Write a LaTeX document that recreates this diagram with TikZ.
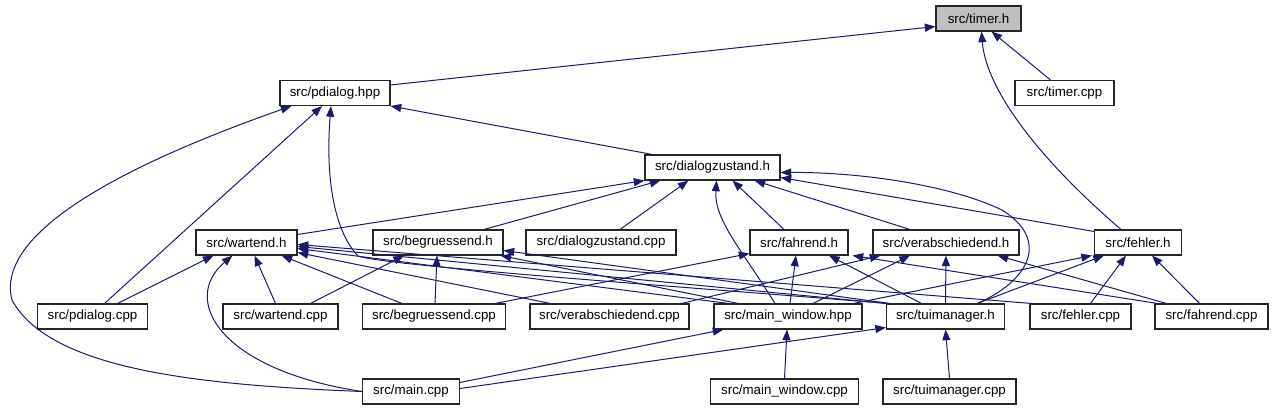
\documentclass[tikz,border=0pt]{standalone}
\usepackage{fontspec}
\setmainfont{Liberation Sans}
\usetikzlibrary{arrows.meta,calc}
\definecolor{edgeblue}{HTML}{191970}
\definecolor{boxgray}{HTML}{BFBFBF}
\begin{document}
\begin{tikzpicture}[x=0.75pt,y=-0.75pt,
  box/.style={draw=black!85, line width=0.8pt, fill=white, inner sep=0pt,
    minimum height=18.75pt, font=\fontsize{10}{12}\selectfont},
  bw/.style={minimum width=#1*0.75pt},
  dep/.style={draw=edgeblue, line width=0.75pt, -{Triangle[length=8pt,width=6pt]}}]
\useasboundingbox (0,0) rectangle (1273,411);
% nodes
\node[box,bw=85,fill=boxgray] (timer) at (978.5,18.5) {src/timer.h};
\node[box,bw=110] (pdialoghpp) at (335,93) {src/pdialog.hpp};
\node[box,bw=99] (timercpp) at (1064.5,93) {src/timer.cpp};
\node[box,bw=135] (dzh) at (712.5,167.5) {src/dialogzustand.h};
\node[box,bw=101] (wartendh) at (246.5,242.5) {src/wartend.h};
\node[box,bw=130] (begrh) at (438,242.5) {src/begruessend.h};
\node[box,bw=150] (dzcpp) at (601,242.5) {src/dialogzustand.cpp};
\node[box,bw=98] (fahrendh) at (799,242.5) {src/fahrend.h};
\node[box,bw=146] (verabh) at (946,242.5) {src/verabschiedend.h};
\node[box,bw=87] (fehlerh) at (1138,242.5) {src/fehler.h};
\node[box,bw=110] (pdialogcpp) at (92.5,316.5) {src/pdialog.cpp};
\node[box,bw=115] (wartendcpp) at (280.5,316.5) {src/wartend.cpp};
\node[box,bw=143] (begrcpp) at (434,316.5) {src/begruessend.cpp};
\node[box,bw=159] (verabcpp) at (609.5,316.5) {src/verabschiedend.cpp};
\node[box,bw=148] (mwhpp) at (788,316.5) {src/main\_window.hpp};
\node[box,bw=118] (tuih) at (945.5,316.5) {src/tuimanager.h};
\node[box,bw=101] (fehlercpp) at (1080.5,316.5) {src/fehler.cpp};
\node[box,bw=113] (fahrendcpp) at (1211.5,316.5) {src/fahrend.cpp};
\node[box,bw=97] (maincpp) at (411,391.5) {src/main.cpp};
\node[box,bw=148] (mwcpp) at (784.5,391.5) {src/main\_window.cpp};
\node[box,bw=133] (tuicpp) at (949.5,391.5) {src/tuimanager.cpp};
% into timer.h
\draw[dep] ($(pdialoghpp.north east)+(0,5)$) -- ($(timer.west)+(0,8)$);
\draw[dep] ($(timercpp.north)+(-14,0)$) -- ($(timer.south)+(13,0)$);
\draw[dep] ($(fehlerh.north)+(-17,0)$) .. controls (1040,160) and (986,90) .. ($(timer.south)+(3,0)$);
% into pdialog.hpp
\draw[dep] ($(dzh.north west)+(8,0)$) -- (pdialoghpp.south east);
\draw[dep] ($(pdialogcpp.north)+(12,0)$) -- ($(pdialoghpp.south)+(-13,0)$);
\draw[dep] (maincpp.west) .. controls (200,385) and (50,370) .. (12,300)
  .. controls (-5,235) and (115,168) .. ($(pdialoghpp.south west)+(12,0)$);
\draw[dep] ($(tuih.north west)+(2,0)$) .. controls (700,288) and (385,266) .. (358,256)
  .. controls (335,232) and (325,180) .. ($(pdialoghpp.south)+(-4,0)$);
% into dialogzustand.h
\draw[dep] ($(wartendh.east)+(0,-8)$) -- (dzh.south west);
\draw[dep] ($(begrh.north)+(46,0)$) -- ($(dzh.south west)+(16,0)$);
\draw[dep] ($(dzcpp.north)+(19,0)$) -- ($(dzh.south)+(-24,0)$);
\draw[dep] ($(mwhpp.north)+(-13,0)$) .. controls (742,250) and (714,220) .. ($(dzh.south)+(4,0)$);
\draw[dep] ($(fahrendh.north)+(-15,0)$) -- ($(dzh.south)+(20,0)$);
\draw[dep] ($(verabh.north)+(-36,0)$) -- ($(dzh.south)+(42,0)$);
\draw[dep] ($(fehlerh.north west)+(0,2)$) -- ($(dzh.east)+(0,10)$);
\draw[dep] ($(tuih.north)+(32,0)$) .. controls (1030,280) and (1050,240) .. (1002,210)
  .. controls (950,185) and (860,172) .. ($(dzh.east)+(0,5)$);
% into wartend.h
\draw[dep] ($(pdialogcpp.north)+(25,0)$) -- ($(wartendh.south)+(-33,0)$);
\draw[dep] (maincpp.west) .. controls (220,370) and (180,300) .. ($(wartendh.south)+(-14,0)$);
\draw[dep] ($(wartendcpp.north)+(-5,0)$) -- ($(wartendh.south)+(8,0)$);
\draw[dep] ($(begrcpp.north)+(-32,0)$) -- ($(wartendh.south)+(35,0)$);
\draw[dep] ($(verabcpp.north west)+(21,0)$) -- ($(wartendh.south east)+(0,-3)$);
\draw[dep] ($(mwhpp.north west)+(15,0)$) -- ($(wartendh.east)+(0,6)$);
\draw[dep] (tuih.north west) -- ($(wartendh.east)+(0,4)$);
\draw[dep] ($(fehlercpp.north west)+(2,0)$) -- ($(wartendh.east)+(0,2)$);
% into begruessend.h
\draw[dep] ($(wartendcpp.north east)+(-28,0)$) -- ($(begrh.south)+(-34,0)$);
\draw[dep] ($(begrcpp.north)+(1,0)$) -- ($(begrh.south)+(-1,0)$);
\draw[dep] ($(mwhpp.north west)+(25,0)$) -- ($(begrh.south east)+(-3,0)$);
\draw[dep] ($(tuih.north west)+(4,0)$) -- ($(begrh.east)+(0,8)$);
% into fahrend.h
\draw[dep] ($(begrcpp.north east)+(-11,0)$) -- ($(fahrendh.south west)+(0,-2)$);
\draw[dep] ($(mwhpp.north)+(2,0)$) -- ($(fahrendh.south)+(-3,0)$);
\draw[dep] ($(tuih.north)+(-24,0)$) -- ($(fahrendh.south)+(30,0)$);
\draw[dep] ($(fahrendcpp.north west)+(3,0)$) -- ($(fahrendh.south east)+(4,0)$);
% into verabschiedend.h
\draw[dep] ($(verabcpp.north east)+(-8,0)$) -- ($(verabh.south west)+(8,0)$);
\draw[dep] ($(mwhpp.north)+(25,0)$) -- ($(verabh.south)+(-36,0)$);
\draw[dep] (tuih.north) -- (verabh.south);
\draw[dep] ($(fahrendcpp.north west)+(12,0)$) -- ($(verabh.south east)+(-22,0)$);
% into fehler.h
\draw[dep] ($(mwhpp.north east)+(-9,0)$) -- ($(fehlerh.south west)+(-2,0)$);
\draw[dep] ($(tuih.north east)+(-28,0)$) -- ($(fehlerh.south west)+(10,0)$);
\draw[dep] ($(fehlercpp.north)+(10,0)$) -- ($(fehlerh.south)+(-12,0)$);
\draw[dep] ($(fahrendcpp.north)+(-12,0)$) -- ($(fehlerh.south)+(14,0)$);
% into main_window.hpp
\draw[dep] ($(maincpp.north east)+(0,4)$) -- ($(mwhpp.south west)+(10,0)$);
\draw[dep] (mwcpp.north) -- ($(mwhpp.south)+(-1,0)$);
% into tuimanager.h
\draw[dep] ($(maincpp.east)+(0,-3)$) -- ($(tuih.south west)+(0,-2)$);
\draw[dep] (tuicpp.north) -- (tuih.south);
\end{tikzpicture}
\end{document}
